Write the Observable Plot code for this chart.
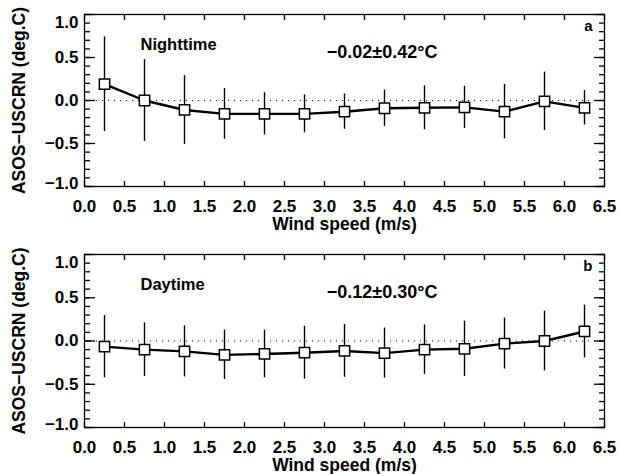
<!DOCTYPE html>
<html>
<head>
<meta charset="utf-8">
<script src="https://cdn.jsdelivr.net/npm/d3@7"></script>
<script src="https://cdn.jsdelivr.net/npm/@observablehq/plot@0.6"></script>
<style>
  html, body { margin: 0; padding: 0; background: #fff; }
  #chart svg { display: block; }
</style>
</head>
<body>
<div id="chart"></div>
<script>
// ---- data ----
const windSpeed = [0.25, 0.75, 1.25, 1.75, 2.25, 2.75, 3.25, 3.75, 4.25, 4.75, 5.25, 5.75, 6.25];
const nightMean = [0.19, 0.0, -0.11, -0.155, -0.155, -0.155, -0.13, -0.09, -0.085, -0.08, -0.13, -0.01, -0.085];
const nightSd   = [0.55, 0.475, 0.40, 0.295, 0.245, 0.22, 0.205, 0.21, 0.255, 0.245, 0.315, 0.34, 0.20];
const dayMean   = [-0.065, -0.10, -0.12, -0.16, -0.15, -0.135, -0.115, -0.14, -0.10, -0.09, -0.03, 0.0, 0.11];
const daySd     = [0.36, 0.31, 0.295, 0.285, 0.275, 0.305, 0.305, 0.29, 0.285, 0.32, 0.295, 0.345, 0.305];
const xTicks = [0, 0.5, 1, 1.5, 2, 2.5, 3, 3.5, 4, 4.5, 5, 5.5, 6, 6.5];
const yMajor = [-1, -0.5, 0, 0.5, 1];
const yMinor = d3.range(-10, 11).map(i => i / 10);
const xLabel = "Wind speed (m/s)";
const yLabel = "ASOS\u2212USCRN (deg.C)";
const panels = [
  {name: "Nighttime", stat: "\u22120.02\u00b10.42\u00b0C", letter: "a", mean: nightMean, sd: nightSd},
  {name: "Daytime",   stat: "\u22120.12\u00b10.30\u00b0C", letter: "b", mean: dayMean,   sd: daySd}
];

const FONT = "'Liberation Sans', Arial, Helvetica, sans-serif";
const fmt = d3.format(".1f");

function panel(p, height, marginBottom) {
  const data = windSpeed.map((x, i) => ({x, y: p.mean[i], lo: p.mean[i] - p.sd[i], hi: p.mean[i] + p.sd[i]}));
  const tickStyle = {fontSize: 17, fontWeight: "bold", fill: "#000"};
  return Plot.plot({
    width: 619,
    height,
    marginLeft: 84,
    marginRight: 15,
    marginTop: 14,
    marginBottom,
    style: {fontFamily: FONT, background: "#fff", color: "#000"},
    x: {domain: [0, 6.5]},
    y: {domain: [-1, 1]},
    marks: [
      Plot.ruleY([0], {stroke: "#000", strokeWidth: 1, strokeDasharray: "1,5"}),
      // inward ticks
      Plot.axisX(xTicks, {anchor: "bottom", tickSize: -5, tickFormat: () => "", label: null, strokeWidth: 1.3}),
      Plot.axisX(xTicks, {anchor: "top", tickSize: -5, tickFormat: () => "", label: null, strokeWidth: 1.3}),
      Plot.axisY(yMinor, {anchor: "left", tickSize: -6, tickFormat: () => "", label: null, strokeWidth: 1.3}),
      Plot.axisY(yMinor, {anchor: "right", tickSize: -6, tickFormat: () => "", label: null, strokeWidth: 1.3}),
      Plot.axisY(yMajor, {anchor: "left", tickSize: -11, tickFormat: () => "", label: null, strokeWidth: 1.3}),
      Plot.axisY(yMajor, {anchor: "right", tickSize: -11, tickFormat: () => "", label: null, strokeWidth: 1.3}),
      // tick labels
      Plot.axisX(xTicks, {anchor: "bottom", tickSize: 0, tickPadding: 13, tickFormat: fmt, label: null, ...tickStyle}),
      Plot.axisY(yMajor.filter(v => Math.abs(v) < 1), {anchor: "left", tickSize: 0, tickPadding: 6, tickFormat: fmt, label: null, ...tickStyle}),
      Plot.axisY(yMajor.filter(v => v === 1), {anchor: "left", tickSize: 0, tickPadding: 6, tickFormat: fmt, label: null, dy: 8, ...tickStyle}),
      Plot.axisY(yMajor.filter(v => v === -1), {anchor: "left", tickSize: 0, tickPadding: 6, tickFormat: fmt, label: null, dy: -3, ...tickStyle}),
      Plot.frame({stroke: "#000", strokeWidth: 1.3}),
      // error bars
      Plot.ruleX(data, {x: "x", y1: "lo", y2: "hi", stroke: "#000", strokeWidth: 1.4}),
      // mean line
      Plot.line(data, {x: "x", y: "y", stroke: "#000", strokeWidth: 2.4}),
      Plot.dot(data, {x: "x", y: "y", symbol: "square", r: 5.8, fill: "#fff", stroke: "#000", strokeWidth: 1.5}),
      // annotations
      Plot.text([p.name], {x: 0.7, y: 0.65, text: d => d, textAnchor: "start", fontSize: 16.5, fontWeight: "bold", fill: "#000"}),
      Plot.text([p.stat], {x: 3.72, y: 0.56, text: d => d, textAnchor: "middle", fontSize: 18, fontWeight: "bold", fill: "#000"}),
      Plot.text([p.letter], {x: 6.35, y: 0.86, text: d => d, textAnchor: "end", fontSize: 15, fontWeight: "bold", fill: "#000"}),
      // axis titles
      Plot.text([xLabel], {frameAnchor: "bottom", lineAnchor: "middle", dy: 38, text: d => d, fontSize: 17.5, fontWeight: "bold", fill: "#000"}),
      Plot.text([yLabel], {frameAnchor: "left", textAnchor: "middle", lineAnchor: "middle", dx: -65, rotate: -90, text: d => d, fontSize: 17.5, fontWeight: "bold", fill: "#000"})
    ]
  });
}

const root = document.getElementById("chart");
root.appendChild(panel(panels[0], 240, 54));
root.appendChild(panel(panels[1], 234, 47));
</script>
</body>
</html>
